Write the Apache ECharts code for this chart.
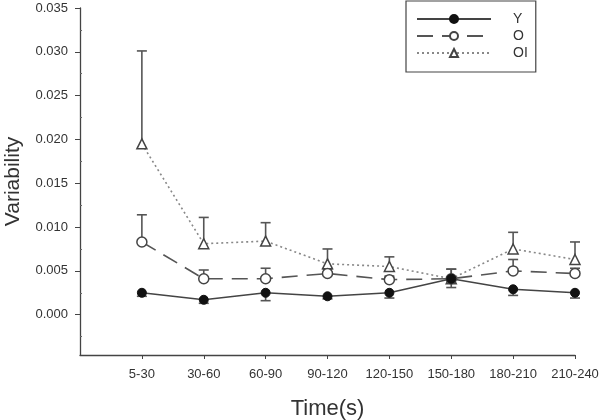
<!DOCTYPE html>
<html><head><meta charset="utf-8">
<script src="https://cdn.jsdelivr.net/npm/echarts@6/dist/echarts.min.js"></script>
<style>html,body{margin:0;padding:0;background:#fff}#c{width:600px;height:420px}</style>
</head><body><div id="c"></div>
<script>
var categories = ['5-30','30-60','60-90','90-120','120-150','150-180','180-210','210-240'];
var yTicks = [0, 0.005, 0.010, 0.015, 0.020, 0.025, 0.030, 0.035];
var yMinorTicks = [-0.0025, 0.0025, 0.0075, 0.0125, 0.0175, 0.0225, 0.0275, 0.0325];
var valY  = [0.0025, 0.0017, 0.0025, 0.0021, 0.0025, 0.0041, 0.0029, 0.0025];
var errY  = [0.0004, 0.0004, 0.0009, 0.0003, 0.0006, 0.0010, 0.0007, 0.0006];
var valO  = [0.0083, 0.0041, 0.0041, 0.0047, 0.0040, 0.0041, 0.0050, 0.0047];
var errO  = [0.0031, 0.0010, 0.0012, 0.0005, 0.0004, 0.0011, 0.0013, 0.0006];
var valOI = [0.0195, 0.0081, 0.0084, 0.0058, 0.0055, 0.0041, 0.0075, 0.0063];
var errOI = [0.0106, 0.0030, 0.0021, 0.0017, 0.0011, 0.0011, 0.0019, 0.0020];

var FONT = 'Liberation Sans, Arial, sans-serif';
function pts(v){ return v.map(function(d,i){ return [i+1, d]; }); }
function errData(v, e, dir){ return v.map(function(d,i){ return [i+1, d, d + dir*e[i]]; }); }
function errSeries(v, e, dir){
  return {
    type: 'custom', z: 1, silent: true,
    data: errData(v, e, dir),
    renderItem: function(params, api){
      var p0 = api.coord([api.value(0), api.value(1)]);
      var p1 = api.coord([api.value(0), api.value(2)]);
      var st = {stroke: '#555', lineWidth: 1.6};
      return {type: 'group', children: [
        {type: 'line', shape: {x1: p0[0], y1: p0[1], x2: p1[0], y2: p1[1]}, style: st},
        {type: 'line', shape: {x1: p1[0]-5, y1: p1[1], x2: p1[0]+5, y2: p1[1]}, style: st}
      ]};
    }
  };
}

var chart = echarts.init(document.getElementById('c'), null, {renderer: 'canvas'});
chart.setOption({
  backgroundColor: '#fff',
  animation: false,
  grid: {left: 80, right: 25, top: 8, bottom: 65, containLabel: false, outerBoundsMode: 'none'},
  legend: {
    data: ['Y', 'O', 'OI'],
    orient: 'vertical', left: 406, top: 1,
    itemWidth: 74, itemHeight: 10, itemGap: 3,
    padding: [11, 8, 12, 10],
    borderColor: '#444', borderWidth: 1.2,
    textStyle: {fontFamily: FONT, fontSize: 14, color: '#333', padding: [0, 0, 0, 17]}
  },
  xAxis: {
    type: 'value', min: 0, max: 8, interval: 1,
    splitLine: {show: false},
    axisLine: {onZero: false, lineStyle: {color: '#444', width: 1.3}},
    axisTick: {customValues: [1,2,3,4,5,6,7,8], length: 4, lineStyle: {color: '#444'}},
    axisLabel: {customValues: [1,2,3,4,5,6,7,8], margin: 13, color: '#333', fontFamily: FONT, fontSize: 13,
      formatter: function(v){ return categories[Math.round(v)-1] || ''; }},
    name: 'Time(s)', nameLocation: 'middle', nameGap: 43,
    nameTextStyle: {fontFamily: FONT, fontSize: 22, color: '#333'}
  },
  yAxis: [{
    type: 'value', min: -0.0046, max: 0.035,
    splitLine: {show: false},
    axisLine: {show: true, onZero: false, lineStyle: {color: '#444', width: 1.3}},
    axisTick: {customValues: yTicks, length: 5, lineStyle: {color: '#444'}},
    axisLabel: {customValues: yTicks, margin: 12, color: '#333', fontFamily: FONT, fontSize: 13,
      formatter: function(v){ return v.toFixed(3); }},
    name: 'Variability', nameLocation: 'middle', nameGap: 56, nameRotate: 90,
    nameTextStyle: {fontFamily: FONT, fontSize: 21, color: '#333'}
  }, {
    type: 'value', min: -0.0046, max: 0.035, position: 'left', offset: 0,
    splitLine: {show: false},
    axisLine: {show: false, onZero: false},
    axisLabel: {show: false},
    axisTick: {show: true, inside: true, customValues: yMinorTicks, length: 2, lineStyle: {color: '#666'}}
  }],
  series: [
    errSeries(valY, errY, -1),
    errSeries(valO, errO, 1),
    errSeries(valOI, errOI, 1),
    {name: 'OI', type: 'line', z: 2, data: pts(valOI), symbol: 'triangle', symbolSize: 10,
      lineStyle: {color: '#888', width: 1.6, type: [2, 3]},
      itemStyle: {color: '#fff', borderColor: '#444', borderWidth: 1.5}},
    {name: 'O', type: 'line', z: 3, data: pts(valO), symbol: 'circle', symbolSize: 10,
      lineStyle: {color: '#555', width: 1.6, type: [16, 9]},
      itemStyle: {color: '#fff', borderColor: '#444', borderWidth: 1.5}},
    {name: 'Y', type: 'line', z: 4, data: pts(valY), symbol: 'circle', symbolSize: 9,
      lineStyle: {color: '#444', width: 1.6},
      itemStyle: {color: '#111', borderColor: '#111', borderWidth: 1}}
  ]
});
</script></body></html>
